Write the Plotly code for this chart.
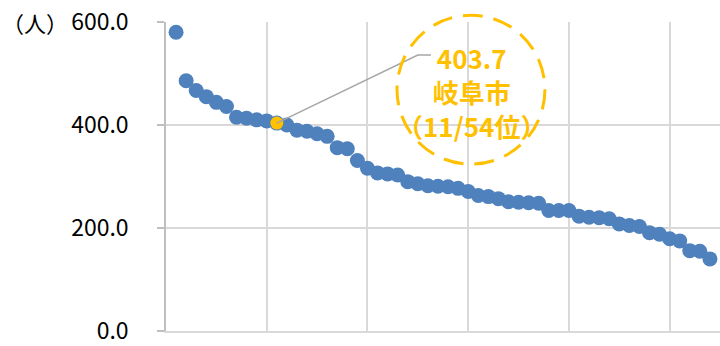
import plotly.graph_objects as go

# 人口10万人当たりの値（順位順、54市）
ranks = list(range(1, 55))
values = [
    580.0, 486.0, 467.0, 455.0, 444.0, 436.0, 415.0, 413.0, 410.0, 408.0,
    403.7, 400.0, 390.0, 388.0, 383.0, 378.0, 356.0, 354.0, 331.0, 316.0,
    307.0, 305.0, 303.0, 290.0, 286.0, 282.0, 281.0, 280.0, 277.0, 271.0,
    263.0, 261.0, 257.0, 251.0, 250.0, 249.0, 248.0, 234.0, 234.0, 234.0,
    223.0, 221.0, 220.0, 218.0, 208.0, 205.0, 203.0, 191.0, 188.0, 179.0,
    175.0, 156.0, 155.0, 140.0,
]
highlight_name = "岐阜市"
highlight_rank = 11
highlight_value = values[highlight_rank - 1]

y_ticks = [0, 200, 400, 600]
y_tick_labels = ["0.0", "200.0", "400.0", "600.0"]

BLUE = "#4F81BD"
GOLD = "#FFC000"
FONT = "Noto Sans CJK JP"

fig = go.Figure()

fig.add_trace(go.Scatter(
    x=ranks, y=values, mode="markers",
    marker=dict(color=BLUE, size=15, line=dict(width=0)),
    hoverinfo="x+y", showlegend=False,
))

fig.add_trace(go.Scatter(
    x=[highlight_rank], y=[highlight_value], mode="markers",
    marker=dict(color=GOLD, size=13, line=dict(width=0)),
    hoverinfo="x+y", showlegend=False,
))

# leader line from the highlighted point to the callout
elbow_x, elbow_y = 25.0, 536.0
fig.add_shape(
    type="path", xref="x", yref="y",
    path=f"M {highlight_rank},{highlight_value} L {elbow_x},{elbow_y} L {elbow_x + 1.3},{elbow_y}",
    line=dict(color="#A6A6A6", width=1.5),
)

# dashed circle around the callout text
fig.add_shape(
    type="circle", xref="paper", yref="paper",
    x0=0.417, x1=0.684, y0=0.54, y1=1.022,
    line=dict(color=GOLD, width=3, dash="20px,11px"),
)

fig.add_annotation(
    xref="paper", yref="paper", x=0.552, y=0.775,
    xanchor="center", yanchor="middle",
    text=f"<b>{highlight_value:.1f}<br>{highlight_name}<br>（{highlight_rank}/{len(values)}位）</b>",
    showarrow=False, align="center",
    font=dict(family=FONT, size=26, color=GOLD),
)

# unit label beside the top tick
fig.add_annotation(
    xref="paper", yref="paper", x=-0.3, y=1.0, xanchor="left", yanchor="middle",
    text="（人）", showarrow=False,
    font=dict(family=FONT, size=22, color="#000000"),
)

fig.update_xaxes(
    range=[0, 55], dtick=10, tick0=0,
    showgrid=True, gridcolor="#D9D9D9", gridwidth=1.5,
    showticklabels=False, zeroline=False,
    showline=True, linecolor="#D9D9D9", linewidth=1.5,
    ticks="",
)
fig.update_yaxes(
    range=[0, 600], tickvals=y_ticks, ticktext=y_tick_labels,
    showgrid=True, gridcolor="#D9D9D9", gridwidth=1.5,
    zeroline=False,
    showline=True, linecolor="#BFBFBF", linewidth=1.5,
    ticks="outside", ticklen=7, tickcolor="#BFBFBF", tickwidth=1.5,
    ticklabelstandoff=24, ticklabeloverflow="allow",
    tickfont=dict(family=FONT, size=23, color="#000000"),
)

fig.update_layout(
    width=720, height=346,
    margin=dict(l=166, r=0, t=22, b=10),
    paper_bgcolor="white", plot_bgcolor="white",
)

fig.write_html("out.html")
